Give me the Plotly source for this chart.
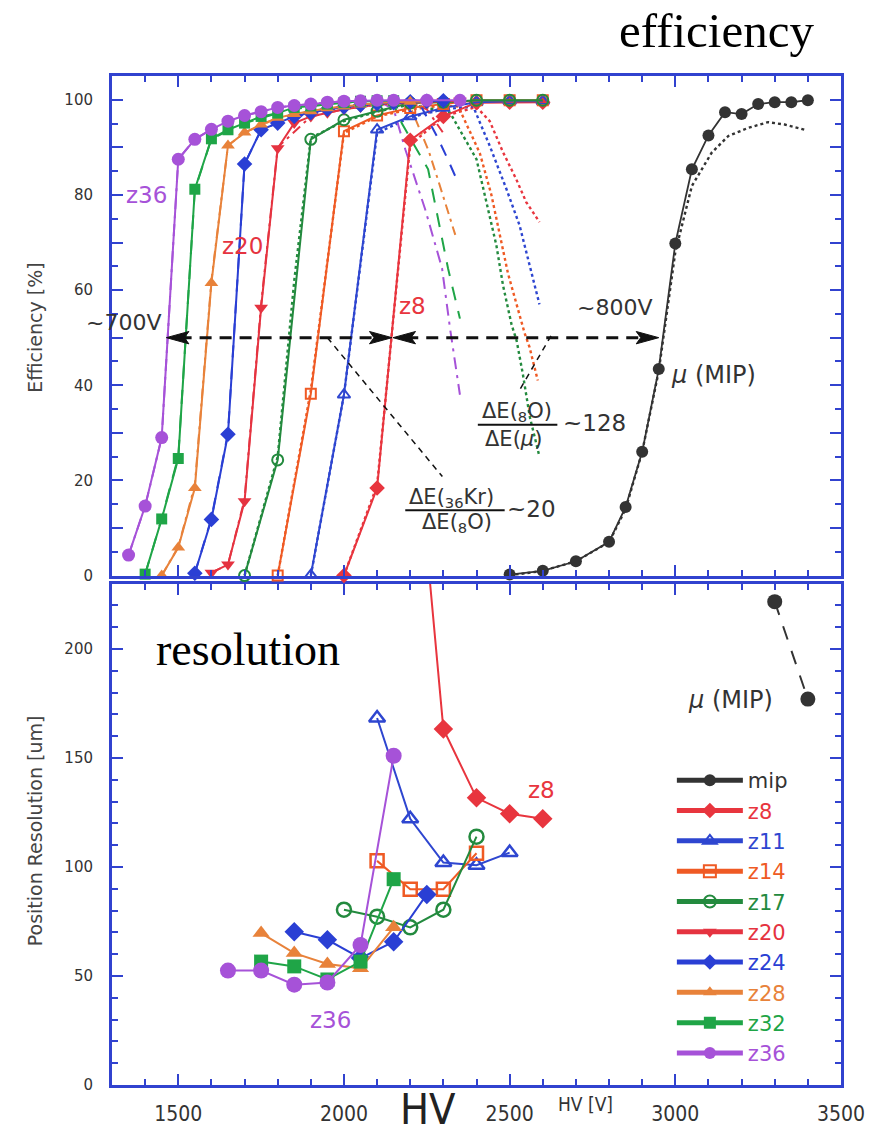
import plotly.graph_objects as go

# ---------------- data ----------------
# Efficiency [%] vs HV [V]  (solid curves with markers)
hv_mip = [2500, 2600, 2700, 2800, 2850, 2900, 2950, 3000, 3050, 3100, 3150, 3200, 3250, 3300, 3350, 3400]
eff_mip = [0.2, 1.0, 3.0, 7.1, 14.4, 26, 43.4, 69.8, 85.4, 92.5, 97.4, 97.0, 99.1, 99.5, 99.5, 99.9]
hv_z8 = [2000, 2100, 2200, 2300, 2400, 2500, 2600]
eff_z8 = [0, 18.4, 91.5, 96.5, 99.4, 99.5, 99.5]
hv_z11 = [1900, 2000, 2100, 2200, 2300, 2400, 2500, 2600]
eff_z11 = [0.1, 38, 93.7, 96.5, 98.3, 99.5, 99.7, 99.7]
hv_z14 = [1800, 1900, 2000, 2100, 2200, 2300, 2400, 2500, 2600]
eff_z14 = [0, 38.2, 93.4, 96.7, 98.3, 99.1, 99.9, 99.9, 99.9]
hv_z17 = [1700, 1800, 1900, 2000, 2100, 2200, 2300, 2400, 2500, 2600]
eff_z17 = [0, 24.3, 91.7, 95.8, 97.6, 99.3, 99.5, 99.9, 99.9, 99.9]
hv_z20 = [1600, 1650, 1700, 1750, 1800, 1850, 1900, 1950, 2000, 2050, 2100, 2150, 2200, 2250, 2300, 2350]
eff_z20 = [0.6, 2.3, 15.6, 56.3, 89.8, 95.1, 96.5, 97.3, 98, 98.5, 99, 99.2, 99.4, 99.6, 99.7, 99.8]
hv_z24 = [1550, 1600, 1650, 1700, 1750, 1800, 1850, 1900, 1950, 2000, 2050, 2100, 2150, 2200, 2250, 2300]
eff_z24 = [0.5, 11.8, 29.7, 86.5, 93.7, 95.1, 96.5, 97.3, 98, 98.5, 98.9, 99.2, 99.4, 99.6, 99.7, 99.8]
hv_z28 = [1450, 1500, 1550, 1600, 1650, 1700, 1750, 1800, 1850, 1900, 1950, 2000, 2050, 2100, 2150, 2200, 2250]
eff_z28 = [0, 5.9, 18.4, 61.5, 90.4, 93.1, 94.8, 96.2, 97, 97.6, 98.2, 98.6, 99, 99.3, 99.5, 99.6, 99.7]
hv_z32 = [1400, 1450, 1500, 1550, 1600, 1650, 1700, 1750, 1800, 1850, 1900, 1950, 2000, 2050, 2100, 2150]
eff_z32 = [0.3, 11.9, 24.6, 81.2, 91.8, 93.7, 95.1, 96.5, 97.2, 98.4, 98.7, 99.1, 99.4, 99.7, 99.8, 99.8]
hv_z36 = [1350, 1400, 1450, 1500, 1550, 1600, 1650, 1700, 1750, 1800, 1850, 1900, 1950, 2000, 2050, 2100, 2150, 2250, 2350]
eff_z36 = [4.3, 14.6, 29, 87.5, 91.7, 93.8, 95.5, 96.7, 97.5, 98.4, 98.8, 99.1, 99.5, 99.7, 99.8, 99.9, 99.9, 99.9, 99.9]

# Companion (dotted / dashed) efficiency curves
hv_mip_b = [2500, 2600, 2700, 2800, 2850, 2900, 2950, 3000, 3050, 3110, 3160, 3220, 3280, 3330, 3390]
eff_mip_b = [0, 1, 3, 7, 14, 26, 43, 68, 81.9, 88.9, 92.4, 94.1, 95.3, 94.8, 93.7]
hv_z8_b = [2000, 2100, 2200, 2300, 2400, 2440, 2480, 2520, 2550, 2590]
eff_z8_b = [0, 19, 90.5, 96.5, 98.5, 95.5, 89, 83.3, 78.5, 74.3]
hv_z11_b = [1900, 2000, 2100, 2200, 2300, 2390, 2440, 2490, 2530, 2560, 2590]
eff_z11_b = [0, 38, 93, 96.3, 98, 98.6, 90.3, 81.3, 73.6, 65.3, 57]
hv_z14_b = [1800, 1900, 2000, 2100, 2200, 2300, 2345, 2410, 2445, 2470, 2495, 2525, 2545, 2560, 2575, 2585]
eff_z14_b = [0, 39, 93, 96.5, 98, 98.8, 98.6, 88.8, 80, 71.5, 63.5, 56, 51, 48, 44, 41]
hv_z17_b = [1700, 1800, 1850, 1900, 2000, 2100, 2200, 2320, 2400, 2430, 2460, 2480, 2506, 2521, 2540, 2561, 2590]
eff_z17_b = [0, 25, 62, 92, 95.5, 97.5, 99, 97.3, 87.5, 78.5, 69.4, 61, 52.7, 49.4, 42.3, 33.3, 25]
hv_z20_b = [1600, 1650, 1700, 1750, 1800, 1900, 2000, 2100, 2200, 2250, 2300]
eff_z20_b = [0.6, 2.3, 16, 57, 90, 96.5, 98, 99, 99.4, 98, 93]
hv_z24_b = [1550, 1600, 1650, 1700, 1750, 1800, 1900, 2000, 2100, 2200, 2230, 2280, 2310, 2340]
eff_z24_b = [0.5, 12, 30, 86.5, 93.7, 95.1, 97.3, 98.5, 99.2, 99.5, 99, 92.4, 88, 83.3]
hv_z28_b = [1450, 1500, 1550, 1600, 1650, 1700, 1800, 1900, 2000, 2100, 2196, 2256, 2286, 2316, 2336]
eff_z28_b = [0, 6, 19, 62, 90.4, 93.1, 96.2, 97.6, 98.6, 99.3, 99.3, 89.2, 82.7, 76, 71.6]
hv_z32_b = [1400, 1450, 1500, 1550, 1600, 1700, 1800, 1900, 2000, 2100, 2150, 2175, 2254, 2284, 2314, 2350]
eff_z32_b = [0.3, 12, 25, 81, 91.8, 95.1, 97.2, 98.7, 99.4, 99.8, 99, 95, 85.4, 75, 64.6, 54]
hv_z36_b = [1350, 1400, 1450, 1500, 1550, 1600, 1700, 1800, 1900, 2000, 2100, 2150, 2185, 2245, 2296, 2320, 2350]
eff_z36_b = [4.3, 14.6, 29, 87.5, 91.7, 93.8, 96.7, 98.4, 99.1, 99.7, 99.9, 98, 89.6, 77, 64.6, 52, 38]

# Position resolution [um] vs HV [V]
hv_res_mip = [3300, 3400]
res_mip = [221.7, 177]
hv_res_z8 = [2200, 2300, 2400, 2500, 2600]
res_z8 = [330, 163.3, 131.7, 124.4, 122.1]
hv_res_z11 = [2100, 2200, 2300, 2400, 2500]
res_z11 = [168.3, 122.1, 102, 100.8, 106.6]
hv_res_z14 = [2100, 2200, 2300, 2400]
res_z14 = [102.8, 89.8, 89.8, 106.3]
hv_res_z17 = [2000, 2100, 2200, 2300, 2400]
res_z17 = [80.4, 77.2, 72.3, 80.4, 113.9]
hv_res_z24 = [1850, 1950, 2050, 2150, 2250]
res_z24 = [70.3, 66.6, 58.2, 65.7, 87.4]
hv_res_z28 = [1750, 1850, 1950, 2050, 2150]
res_z28 = [69.7, 60.5, 55.5, 53.5, 72.3]
hv_res_z32 = [1750, 1850, 1950, 2050, 2150]
res_z32 = [56.6, 54.4, 48.4, 56.6, 94.4]
hv_res_z36 = [1650, 1750, 1850, 1950, 2050, 2150]
res_z36 = [52.5, 52.5, 46, 47, 64.2, 151]

# Axis ticks
hv_ticks = [1500, 2000, 2500, 3000, 3500]
eff_ticks = [0, 10, 20, 30, 40, 50, 60, 70, 80, 90, 100]
eff_ticklabels = ["0", "", "20", "", "40", "", "60", "", "80", "", "100"]
res_ticks = [0, 50, 100, 150, 200]

# Annotation anchors
arrow_level = 50
arrow1 = (1464, 2145)
arrow2 = (2148, 2950)

# ---------------- styles ----------------
FRAME = "#3142cf"
TXT = "#333333"
SANS = "DejaVu Sans, Noto Sans, sans-serif"
NARROW = "DejaVu Sans Condensed, Liberation Sans Narrow, Roboto Condensed, Liberation Sans, sans-serif"
SERIF = "Liberation Serif, Times New Roman, serif"

C = {
    "mip": "#333333", "z8": "#e8353e", "z11": "#2e46d0", "z14": "#ef5a24",
    "z17": "#238a3e", "z20": "#e53340", "z24": "#2a3fd4", "z28": "#e8823a",
    "z32": "#1fa547", "z36": "#a652d8",
}

series = [
    # name, hv, eff, hv_b, eff_b, dash_b, symbol, size, hv_res, res
    ("mip", hv_mip, eff_mip, hv_mip_b, eff_mip_b, "dot", "circle", 12, hv_res_mip, res_mip),
    ("z8", hv_z8, eff_z8, hv_z8_b, eff_z8_b, "dot", "diamond", 12, hv_res_z8, res_z8),
    ("z11", hv_z11, eff_z11, hv_z11_b, eff_z11_b, "dot", "triangle-up-open", 11, hv_res_z11, res_z11),
    ("z14", hv_z14, eff_z14, hv_z14_b, eff_z14_b, "dot", "square-open", 10, hv_res_z14, res_z14),
    ("z17", hv_z17, eff_z17, hv_z17_b, eff_z17_b, "dot", "circle-open", 11, hv_res_z17, res_z17),
    ("z20", hv_z20, eff_z20, hv_z20_b, eff_z20_b, "10px,5px,3px,5px", "triangle-down", 12, None, None),
    ("z24", hv_z24, eff_z24, hv_z24_b, eff_z24_b, "12px,10px", "diamond", 12, hv_res_z24, res_z24),
    ("z28", hv_z28, eff_z28, hv_z28_b, eff_z28_b, "10px,5px,3px,5px", "triangle-up", 12, hv_res_z28, res_z28),
    ("z32", hv_z32, eff_z32, hv_z32_b, eff_z32_b, "14px,11px", "square", 11, hv_res_z32, res_z32),
    ("z36", hv_z36, eff_z36, hv_z36_b, eff_z36_b, "12px,6px,3px,6px", "circle", 13, hv_res_z36, res_z36),
]

fig = go.Figure()

# companion curves first (under the solid curves)
for name, hv, eff, hvb, effb, dash, sym, size, hvr, rr in series:
    fig.add_trace(go.Scatter(
        x=hvb, y=effb, mode="lines", xaxis="x2", yaxis="y2",
        line=dict(color=C[name], width=2.4 if dash == "dot" else 2, dash=dash),
        showlegend=False, hoverinfo="skip"))

for rank, (name, hv, eff, hvb, effb, dash, sym, size, hvr, rr) in enumerate(series):
    lw = 1.8 if name == "mip" else 2
    legend_from_top = (hvr is None) or name == "mip"
    fig.add_trace(go.Scatter(
        x=hv, y=eff, mode="lines+markers", xaxis="x2", yaxis="y2",
        line=dict(color=C[name], width=lw),
        marker=dict(symbol=sym, size=size, color=C[name],
                    line=dict(color=C[name], width=2 if "open" in sym else 0)),
        cliponaxis=False,
        name="<span style='color:%s'>%s</span>" % (C[name], name),
        legendrank=rank + 1,
        showlegend=legend_from_top))
    if hvr is not None:
        fig.add_trace(go.Scatter(
            x=hvr, y=rr, mode="lines+markers", xaxis="x", yaxis="y",
            line=dict(color=C[name], width=2,
                      dash="14px,12px" if name == "mip" else "solid"),
            marker=dict(symbol=sym, size=size + 3, color=C[name],
                        line=dict(color=C[name], width=2.5 if "open" in sym else 0)),
            cliponaxis=(name == "z8"),
            name="<span style='color:%s'>%s</span>" % (C[name], name),
            legendrank=rank + 1,
            showlegend=not legend_from_top))

axis_common = dict(
    showline=True, linecolor=FRAME, linewidth=3, mirror="allticks",
    ticks="inside", tickcolor=FRAME, tickwidth=2, ticklen=11,
    showgrid=False, zeroline=False,
)

fig.update_layout(
    width=879, height=1138,
    margin=dict(l=112, r=38, t=76, b=44),
    paper_bgcolor="white", plot_bgcolor="white",
    showlegend=True,
    legend=dict(x=0.768, y=0.322, xanchor="left", yanchor="top",
                bgcolor="rgba(0,0,0,0)", font=dict(family=SANS, size=21, color=TXT),
                itemsizing="constant", itemwidth=66, tracegroupgap=0),
    xaxis=dict(domain=[0, 1], anchor="y", range=[1300, 3500], tickvals=hv_ticks,
               minor=dict(dtick=100, tick0=1300, ticklen=6, tickcolor=FRAME, tickwidth=2, ticks="inside"),
               tickfont=dict(family=NARROW, size=21, color=TXT), ticklabelstandoff=8, **axis_common),
    yaxis=dict(domain=[0, 0.497], anchor="x", range=[0, 230], tickvals=res_ticks,
               minor=dict(dtick=10, ticklen=6, tickcolor=FRAME, tickwidth=2, ticks="inside"),
               tickfont=dict(family=SANS, size=15, color=TXT), ticklabelstandoff=13, **axis_common),
    xaxis2=dict(domain=[0, 1], anchor="y2", range=[1300, 3500], tickvals=hv_ticks,
                showticklabels=False,
                minor=dict(dtick=100, tick0=1300, ticklen=6, tickcolor=FRAME, tickwidth=2, ticks="inside"),
                **axis_common),
    yaxis2=dict(domain=[0.5049, 1], anchor="x2", range=[0, 105], tickvals=eff_ticks,
                ticktext=eff_ticklabels,
                minor=dict(dtick=5, ticklen=6, tickcolor=FRAME, tickwidth=2, ticks="inside"),
                tickfont=dict(family=SANS, size=15, color=TXT), ticklabelstandoff=13, **axis_common),
)

shapes = []
# dashed double arrows at 50 %
for (xa, xb) in (arrow1, arrow2):
    shapes.append(dict(type="line", xref="x2", yref="y2", x0=xa + 40, x1=xb - 40,
                       y0=arrow_level, y1=arrow_level,
                       line=dict(color="#111111", width=3, dash="12px,8px")))
    L = 68
    h = 1.3
    for tip, sgn in ((xa, 1), (xb, -1)):
        path = "M %f,%f L %f,%f L %f,%f L %f,%f Z" % (
            tip, arrow_level, tip + sgn * L, arrow_level + h,
            tip + sgn * L * 0.8, arrow_level, tip + sgn * L, arrow_level - h)
        shapes.append(dict(type="path", xref="x2", yref="y2", path=path,
                           fillcolor="#111111", line=dict(color="#111111", width=1)))
# leader lines
shapes.append(dict(type="line", xref="x2", yref="y2", x0=1950, y0=50, x1=2297, y1=20.8,
                   line=dict(color="#111111", width=1.5, dash="6px,5px")))
shapes.append(dict(type="line", xref="x2", yref="y2", x0=2625, y0=50.4, x1=2530, y1=39,
                   line=dict(color="#111111", width=1.5, dash="6px,5px")))
# fraction bars
shapes.append(dict(type="line", xref="x2", yref="y2", x0=2185, x1=2485, y0=13.75, y1=13.75,
                   line=dict(color="#111111", width=2)))
shapes.append(dict(type="line", xref="x2", yref="y2", x0=2404, x1=2644, y0=31.7, y1=31.7,
                   line=dict(color="#111111", width=2)))
fig.update_layout(shapes=shapes)

ann = []


def A(text, x, y, xref, yref, size, color=TXT, family=SANS, **kw):
    d = dict(text=text, x=x, y=y, xref=xref, yref=yref, showarrow=False,
             font=dict(size=size, color=color, family=family),
             xanchor="center", yanchor="middle")
    d.update(kw)
    ann.append(d)


A("efficiency", 0.829, 1.045, "paper", "paper", 49, "black", SERIF)
A("resolution", 0.1866, 0.4312, "paper", "paper", 46, "black", SERIF)
A("Efficiency [%]", -0.1056, 0.7505, "paper", "paper", 19, "#444444", textangle=-90)
A("Position Resolution [um]", -0.1056, 0.2515, "paper", "paper", 19, "#444444", textangle=-90)
A("HV", 0.4335, -0.024, "paper", "paper", 43, "#222222", NARROW)
A("HV [V]", 0.65, -0.0187, "paper", "paper", 19, "#333333", NARROW)

A("z36", 1404, 80, "x2", "y2", 23, C["z36"])
A("z20", 1695, 69.2, "x2", "y2", 23, C["z20"])
A("z8", 2206, 56.7, "x2", "y2", 23, C["z8"])
A("~700V", 1335, 53.1, "x2", "y2", 22, TXT)
A("~800V", 2815, 56.3, "x2", "y2", 22, TXT)
A("<i>μ</i> (MIP)", 3116, 42.1, "x2", "y2", 24, TXT)
A("ΔE(<sub>36</sub>Kr)", 2326, 16.4, "x2", "y2", 21, TXT)
A("ΔE(<sub>8</sub>O)", 2341, 11.0, "x2", "y2", 21, TXT)
A("~20", 2565, 14.0, "x2", "y2", 23, TXT)
A("ΔE(<sub>8</sub>O)", 2521, 34.4, "x2", "y2", 21, TXT)
A("ΔE(<i>μ</i>)", 2512, 28.6, "x2", "y2", 21, TXT)
A("~128", 2755, 32.1, "x2", "y2", 23, TXT)

A("z36", 1959, 29.7, "x", "y", 23, C["z36"])
A("z8", 2596, 135.4, "x", "y", 23, C["z8"])
A("<i>μ</i> (MIP)", 3166, 176.6, "x", "y", 24, TXT)

fig.update_layout(annotations=ann)

fig.write_html("out.html")
